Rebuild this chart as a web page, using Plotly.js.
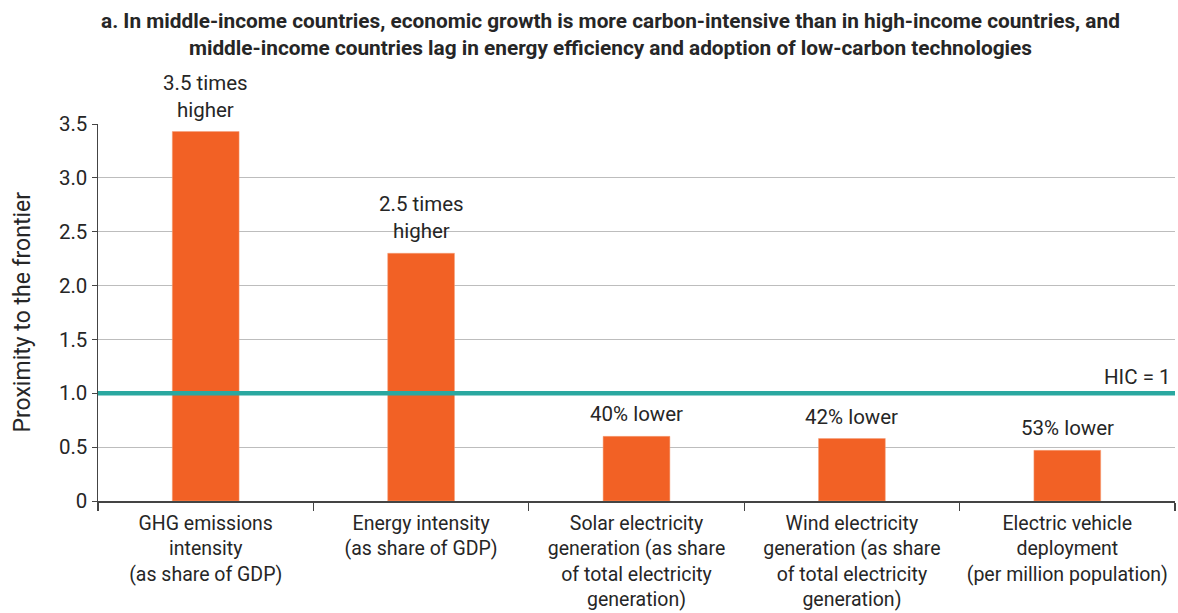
<!DOCTYPE html>
<html>
<head>
<meta charset="utf-8">
<script src="https://cdn.plot.ly/plotly-3.0.1.min.js"></script>
<style>html,body{margin:0;padding:0;background:#fff;}#chart{width:1178px;height:613px;}</style>
</head>
<body>
<div id="chart"></div>
<script>
const categories = [
  "GHG emissions<br>intensity<br>(as share of GDP)",
  "Energy intensity<br>(as share of GDP)",
  "Solar electricity<br>generation (as share<br>of total electricity<br>generation)",
  "Wind electricity<br>generation (as share<br>of total electricity<br>generation)",
  "Electric vehicle<br>deployment<br>(per million population)"
];
const values = [3.43, 2.30, 0.60, 0.58, 0.47];
const barLabels = ["3.5 times<br>higher", "2.5 times<br>higher", "40% lower", "42% lower", "53% lower"];
const hicValue = 1;
const hicLabel = "HIC = 1";
const yTickVals = [0, 0.5, 1.0, 1.5, 2.0, 2.5, 3.0, 3.5];
const yTickText = ["0", "0.5", "1.0", "1.5", "2.0", "2.5", "3.0", "3.5"];
const titleText = "<b>a. In middle-income countries, economic growth is more carbon-intensive than in high-income countries, and<br>middle-income countries lag in energy efficiency and adoption of low-carbon technologies</b>";

const FONT = "Roboto, 'Open Sans', sans-serif";
const textColor = "#262626";

const bars = {
  type: "bar",
  x: categories,
  y: values,
  marker: {color: "#f26125", line: {color: "#f5a07a", width: 0.5}},
  width: 0.31,
  hoverinfo: "skip"
};

const annotations = values.map((v, i) => ({
  x: categories[i], y: v, xref: "x", yref: "y",
  text: barLabels[i], showarrow: false,
  yanchor: "bottom", yshift: 8,
  font: {family: FONT, size: 20.5, color: textColor}
}));
annotations.push({
  x: 1, xref: "paper", y: hicValue, yref: "y",
  text: hicLabel, showarrow: false, xanchor: "right", yanchor: "bottom",
  xshift: -2, yshift: 2,
  font: {family: FONT, size: 20.5, color: textColor}
});
annotations.push({
  x: 0, xref: "paper", y: 0.5, yref: "paper",
  text: "Proximity to the frontier", showarrow: false, textangle: -90,
  xanchor: "center", yanchor: "middle", xshift: -76,
  font: {family: FONT, size: 23, color: textColor}
});
annotations.push({
  x: 0.4763, xref: "paper", y: 1, yref: "paper",
  text: titleText, showarrow: false,
  xanchor: "center", yanchor: "bottom", yshift: 62,
  font: {family: FONT, size: 20.8, color: textColor}
});

const layout = {
  width: 1178, height: 613,
  margin: {l: 98, r: 3, t: 124, b: 112},
  paper_bgcolor: "#fff", plot_bgcolor: "#fff",
  showlegend: false,
  font: {family: FONT, size: 20, color: textColor},
  xaxis: {
    type: "category",
    tickson: "boundaries",
    tickangle: 0,
    ticks: "outside", ticklen: 8, tickcolor: "#444", tickwidth: 1.2,
    showline: true, linecolor: "#444", linewidth: 1.5,
    showgrid: false,
    ticklabelstandoff: 4,
    tickfont: {family: FONT, size: 19.5, color: textColor},
    automargin: false
  },
  yaxis: {
    range: [0, 3.5],
    tickvals: yTickVals, ticktext: yTickText,
    ticks: "outside", ticklen: 5, tickcolor: "#444",
    showline: true, linecolor: "#444", linewidth: 1.5,
    showgrid: true, gridcolor: "#bdbdbd", gridwidth: 1,
    zeroline: false,
    tickfont: {family: FONT, size: 20.5, color: textColor},
    automargin: false
  },
  shapes: [{
    type: "line", xref: "paper", x0: 0, x1: 1, yref: "y", y0: hicValue, y1: hicValue,
    line: {color: "#2aa8a0", width: 4.5}, layer: "above"
  }],
  annotations: annotations,
  bargap: 0.69
};

Plotly.newPlot("chart", [bars], layout, {displayModeBar: false, staticPlot: true});
</script>
</body>
</html>
